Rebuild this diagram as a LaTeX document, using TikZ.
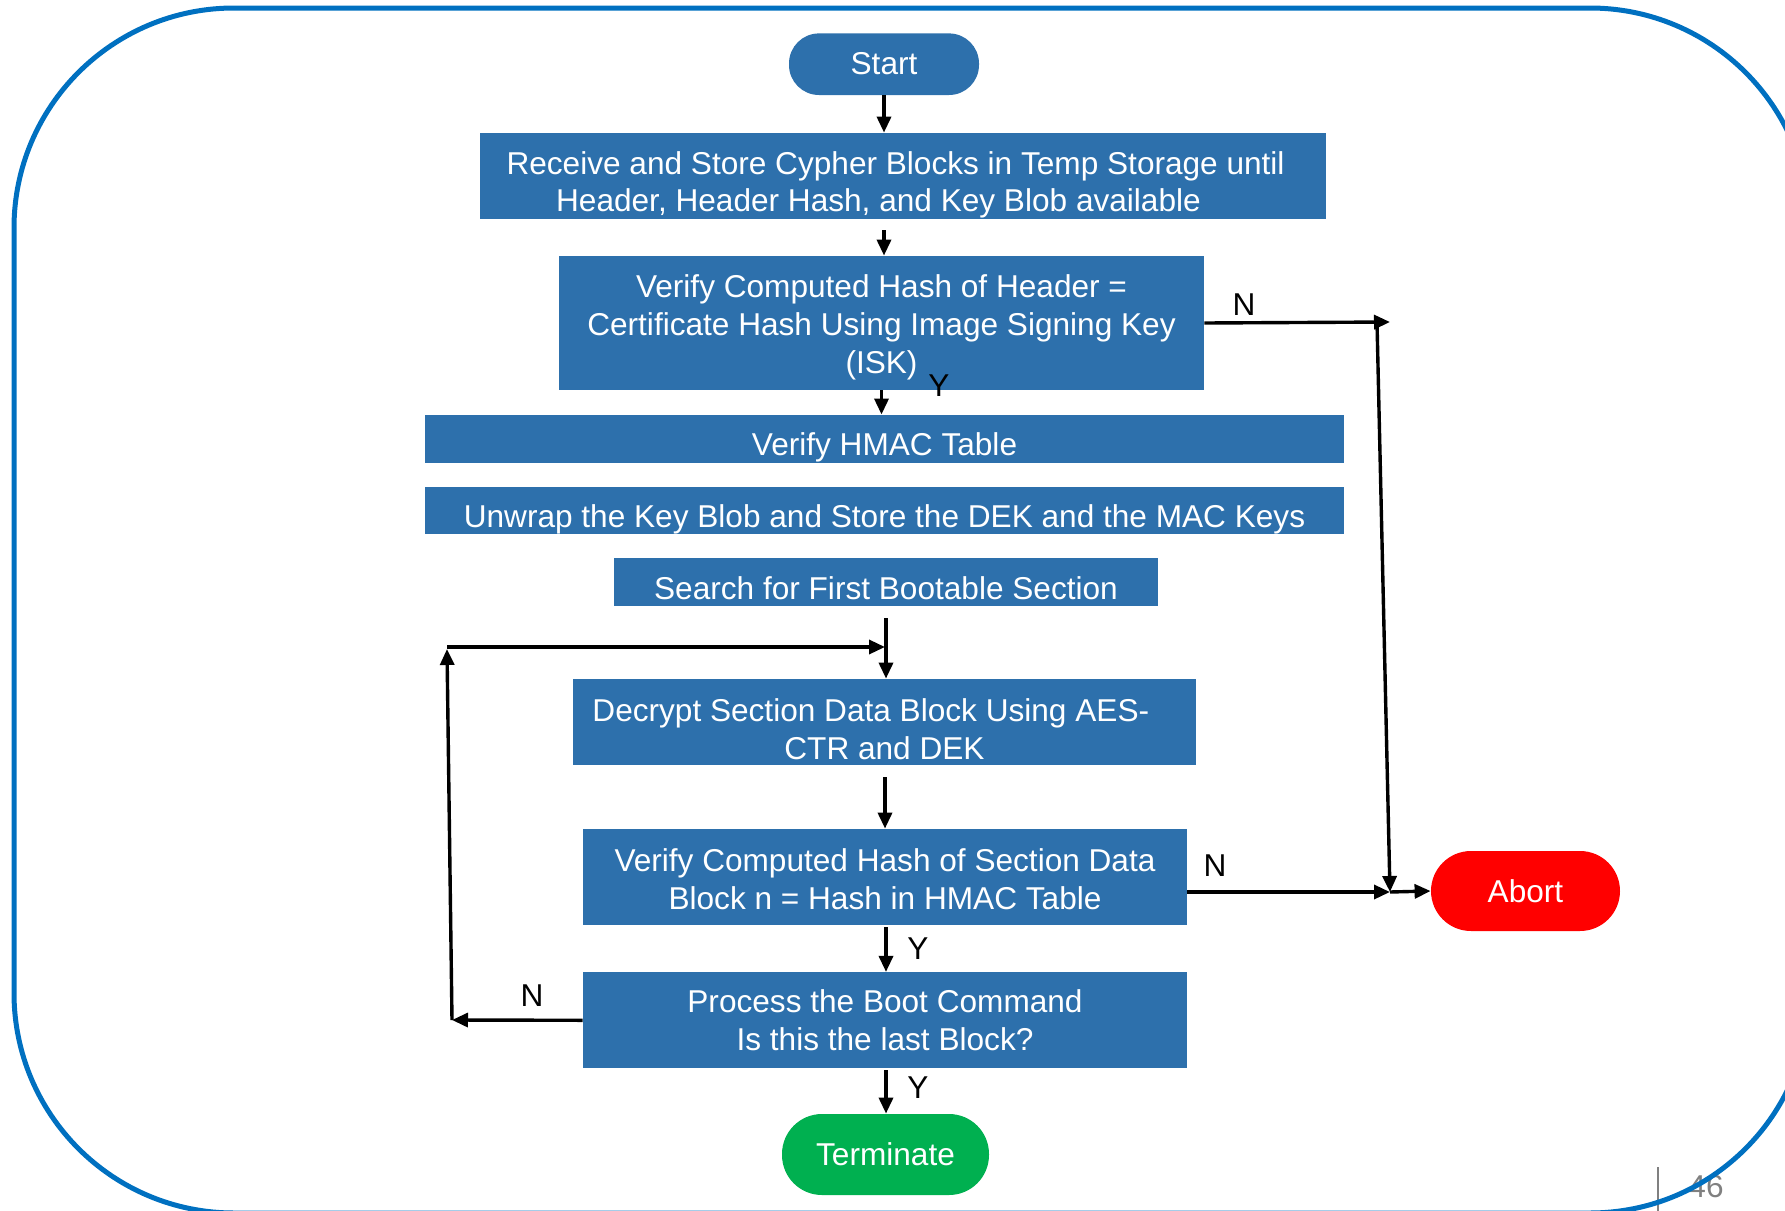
\documentclass[tikz,border=0pt]{standalone}
\usepackage{fontspec}
\setmainfont{Liberation Sans}
\usetikzlibrary{arrows.meta,calc}
\definecolor{boxblue}{RGB}{45,112,172}
\definecolor{frameblue}{RGB}{0,112,192}
\definecolor{abortred}{RGB}{255,0,0}
\definecolor{termgreen}{RGB}{0,176,80}
\definecolor{pagegray}{RGB}{128,128,128}

\begin{document}
\begin{tikzpicture}[x=0.5pt,y=-0.5pt,
  txt/.style={font=\fontsize{15.8}{18.9}\selectfont},
  blk/.style={txt, rectangle, fill=boxblue, text=white, align=center, inner sep=0pt},
  pill/.style={txt, rectangle, rounded corners=#1, text=white, inner sep=0pt},
  tbox/.style 2 args={text height=#1, text depth=#2},
  arr/.style={-{Triangle[length=8pt,width=7pt]}, line width=1.7pt},
  yn/.style={txt, text=black, inner sep=0pt}
]
\path[use as bounding box] (0,0) rectangle (1785,1211);
\clip (0,0) rectangle (1785,1211);

% page number
\draw[pagegray, line width=0.6pt] (1658,1167) -- (1658,1211);
\node[txt, text=pagegray, inner sep=0pt] (pageno) at (1706,1187) {46};

% slide frame
\draw[frameblue, line width=2.5pt, rounded corners=110pt] (14,8) rectangle (1810,1213);

% terminals
\node[pill=15pt, fill=boxblue, minimum width=95pt, minimum height=30.8pt, tbox={12.1pt}{2pt}] (start) at (884,64.2) {Start};
\node[pill=20pt, fill=termgreen, minimum width=103.5pt, minimum height=40.5pt, tbox={13.1pt}{2pt}] (term) at (885.5,1154.5) {Terminate};
\node[pill=20pt, fill=abortred, minimum width=94.5pt, minimum height=40pt, tbox={13.7pt}{2pt}] (abort) at (1525.5,891) {Abort};

% process steps (multi-line text: height counts from the last baseline)
\node[blk, font=\fontsize{15.8}{18.2}\selectfont, minimum width=423pt, minimum height=43pt, tbox={37pt}{2pt}] (recv) at (903,176)
  {Receive and Store Cypher Blocks in Temp Storage until\rule{7.4pt}{0pt}\\Header, Header Hash, and Key Blob available\rule{24.5pt}{0pt}};
\node[blk, minimum width=322.5pt, minimum height=67pt, tbox={52.5pt}{2pt}] (hdr) at (881.5,323)
  {Verify Computed Hash of Header =\\Certificate Hash Using Image Signing Key\\(ISK)};
\node[blk, minimum width=459.5pt, minimum height=23.85pt, tbox={19pt}{2pt}] (hmac) at (884.5,438.8) {Verify HMAC Table};
\node[blk, minimum width=459.5pt, minimum height=23.35pt, tbox={19pt}{2pt}] (unwrap) at (884.5,510.7)
  {Unwrap the Key Blob and Store the DEK and the MAC Keys};
\node[blk, minimum width=272pt, minimum height=23.85pt, tbox={19.5pt}{2pt}] (search) at (886,582.2) {Search for First Bootable Section};
\node[blk, minimum width=311.5pt, minimum height=43pt, tbox={39pt}{2pt}] (decrypt) at (884.5,722)
  {Decrypt Section Data Block Using AES-\rule{13.7pt}{0pt}\\CTR and DEK};
\node[blk, minimum width=302pt, minimum height=48pt, tbox={34pt}{2pt}] (verify) at (885,877)
  {Verify Computed Hash of Section Data\\Block n = Hash in HMAC Table};
\node[blk, minimum width=302pt, minimum height=48pt, tbox={32.4pt}{2pt}] (proc) at (885,1020.3)
  {Process the Boot Command\\Is this the last Block?};

% routing points
\coordinate (g1) at (884,230);
\coordinate (g2) at (886,618);
\coordinate (g3) at (885,777);
\coordinate (g4) at (886,927);
\coordinate (g5) at (886,1070);
\coordinate (hdrN) at (1390,322);
\coordinate (railtop) at (1377,322);
\coordinate (join) at (1390,892);
\coordinate (loopbot) at (452,1020);
\coordinate (looptop) at (447,649);
\coordinate (loopleft) at (447,647);
\coordinate (loopright) at (885,647);

% connectors
\draw[arr] (start.south) -- (start.south |- recv.north);
\draw[arr] (g1) -- (g1 |- hdr.north);
\draw[arr] (hdr.south) -- (hdr.south |- hmac.north);
\draw[arr] (hdr.east) -- (hdrN);
\draw[arr] (railtop) -- (join);
\draw[arr] (verify.east |- join) -- (join);
\draw[arr] (join) -- (abort.west);
\draw[arr] (g2) -- (g2 |- decrypt.north);
\draw[arr] (loopleft) -- (loopright);
\draw[arr] (proc.west) -- (loopbot);
\draw[arr] (loopbot) -- (looptop);
\draw[arr] (g3) -- (g3 |- verify.north);
\draw[arr] (g4) -- (g4 |- proc.north);
\draw[arr] (g5) -- (g5 |- term.north);

% branch labels
\node[yn] (n1) at (1244,305) {N};
\node[yn] (y1) at (939,386) {Y};
\node[yn] (n2) at (1215,866) {N};
\node[yn] (y2) at (918,949) {Y};
\node[yn] (n3) at (532,996) {N};
\node[yn] (y3) at (918,1088) {Y};
\end{tikzpicture}
\end{document}
